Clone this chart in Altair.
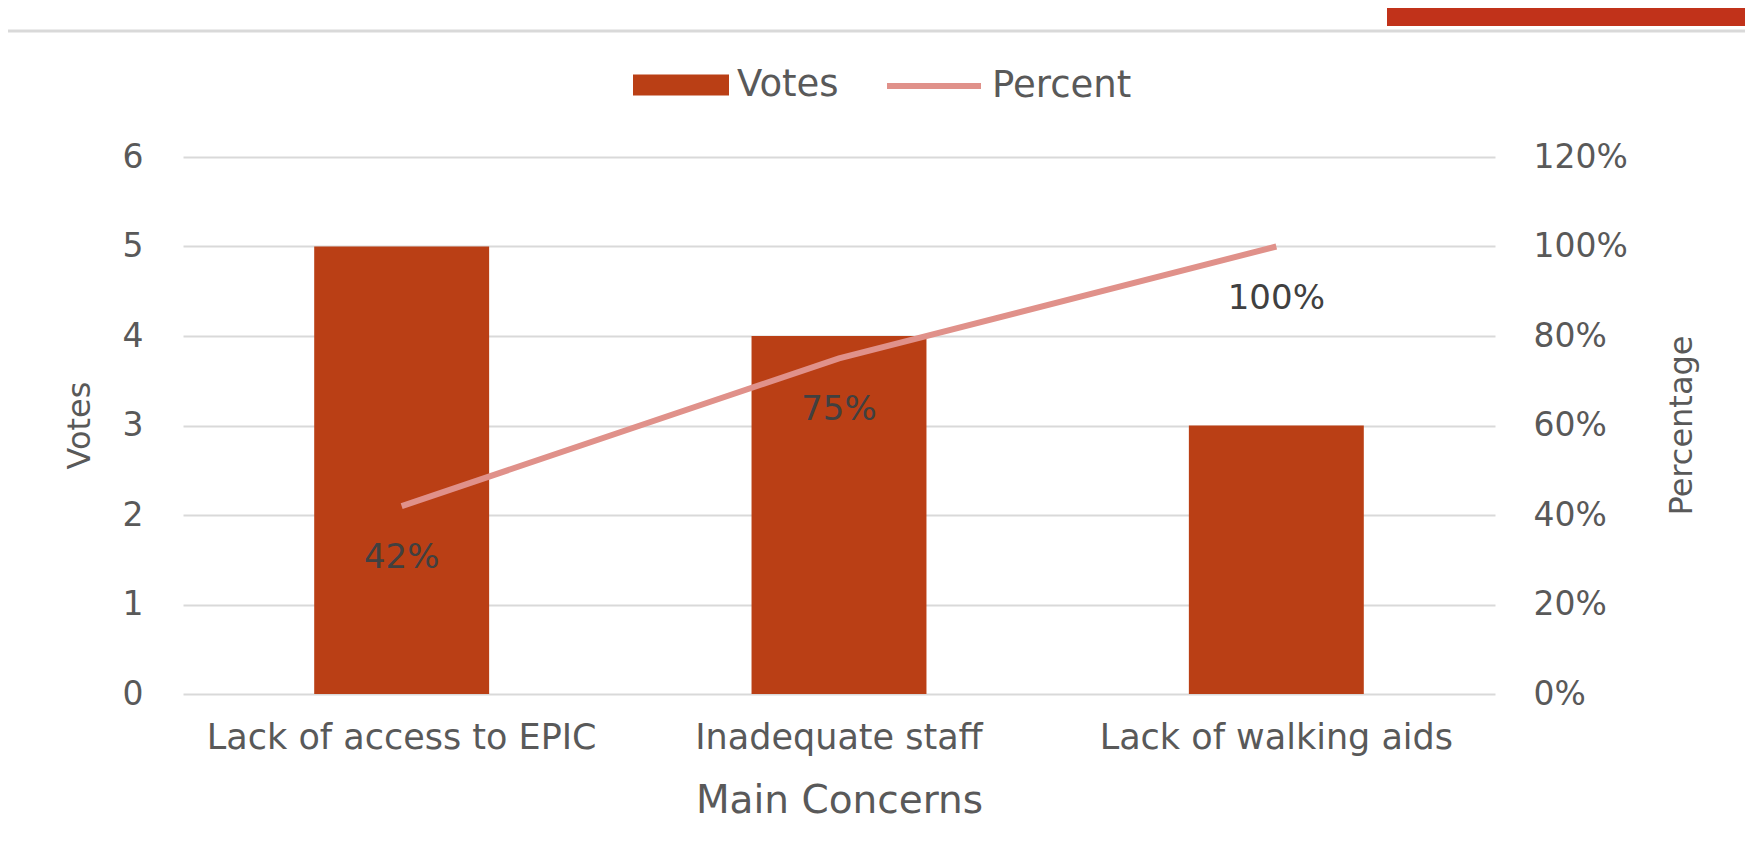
import altair as alt
import pandas as pd

categories = ["Lack of access to EPIC", "Inadequate staff", "Lack of walking aids"]
votes = [5, 4, 3]
percent = [0.42, 0.75, 1.00]
vote_ticks = [0, 1, 2, 3, 4, 5, 6]
pct_ticks = [0, 0.2, 0.4, 0.6, 0.8, 1.0, 1.2]
bar_series = ["Votes"]
line_series = ["Percent"]
bar_color = "#BA3F15"
line_color = "#E0918A"

df = pd.DataFrame({"concern": categories, "votes": votes, "percent": percent})

FONT = "DejaVu Sans"
GRID = "#D9D9D9"
TEXT = "#595959"

x_enc = alt.X(
    "concern:N", sort=categories,
    scale=alt.Scale(paddingInner=0.6, paddingOuter=0.3),
    axis=alt.Axis(title="Main Concerns", labelAngle=0, labelFontSize=35, labelColor=TEXT,
                  labelFont=FONT, labelPadding=26, domain=False, ticks=False, tickSize=0,
                  grid=False, titleFontSize=39, titleFont=FONT, titleColor=TEXT,
                  titleFontWeight="normal", titleY=106, titleBaseline="middle", labelLimit=0),
)

bar_legend = alt.Legend(
    title=None, orient="none", legendX=450, legendY=-120,
    labelFont=FONT, labelFontSize=37, labelColor=TEXT, labelOffset=8,
    symbolType="M-1,-0.22H1V0.22H-1Z", symbolSize=9216, symbolStrokeWidth=0, symbolOpacity=1,
)
line_legend = alt.Legend(
    title=None, orient="none", legendX=701, legendY=-121,
    labelFont=FONT, labelFontSize=37, labelColor=TEXT, labelOffset=8,
    symbolType="stroke", symbolSize=8836, symbolStrokeWidth=6, symbolOpacity=1,
)

base = alt.Chart(df)

bars = base.transform_calculate(series="'Votes'").mark_bar().encode(
    x=x_enc,
    y=alt.Y("votes:Q", scale=alt.Scale(domain=[0, 6], nice=False),
            axis=alt.Axis(title="Votes", orient="left", values=vote_ticks, grid=True,
                          gridColor=GRID, gridWidth=2, domain=False, ticks=False, tickSize=0,
                          labelPadding=40, labelFontSize=33, labelFont=FONT, labelColor=TEXT,
                          titleX=-104, titleY=268, titleAngle=270, titleBaseline="middle",
                          titleAlign="center", titleFontSize=32, titleFont=FONT,
                          titleFontWeight="normal", titleColor=TEXT)),
    fill=alt.Fill("series:N", scale=alt.Scale(domain=bar_series, range=[bar_color]),
                  legend=bar_legend),
)

pct_y = alt.Y("percent:Q", scale=alt.Scale(domain=[0, 1.2], nice=False),
              axis=alt.Axis(title="Percentage", orient="right", values=pct_ticks, format=".0%",
                            grid=False, domain=False, ticks=False, tickSize=0, labelPadding=38,
                            labelFontSize=33, labelFont=FONT, labelColor=TEXT,
                            titleX=186, titleY=268, titleAngle=270, titleBaseline="middle",
                            titleAlign="center", titleFontSize=32, titleFont=FONT,
                            titleFontWeight="normal", titleColor=TEXT))

line = base.transform_calculate(series="'Percent'").mark_line(strokeWidth=6, strokeCap="butt").encode(
    x=x_enc, y=pct_y,
    stroke=alt.Stroke("series:N", scale=alt.Scale(domain=line_series, range=[line_color]),
                      legend=line_legend),
)

labels = base.mark_text(dy=52, fontSize=34, font=FONT, color="#404040").encode(
    x=x_enc, y=alt.Y("percent:Q"), text=alt.Text("percent:Q", format=".0%"),
)

deco = alt.Chart(pd.DataFrame({"a": [0]}))
top_rule = deco.mark_rule(color=GRID, strokeWidth=3).encode(
    x=alt.value(-183), x2=alt.value(1580), y=alt.value(-126))
top_rect = deco.mark_rect(color="#C1321A").encode(
    x=alt.value(1204), x2=alt.value(1573), y=alt.value(-160), y2=alt.value(-131))

chart = alt.layer(bars, alt.layer(line, labels), top_rule, top_rect).resolve_scale(
    y="independent"
).properties(
    width=1312, height=537,
    background="white",
    autosize=alt.AutoSizeParams(type="none"),
    padding={"left": 175, "top": 149, "right": 250, "bottom": 140},
).configure_view(stroke=None, strokeWidth=0)

chart.save("out.html", embed_options={"renderer": "svg", "actions": False})
